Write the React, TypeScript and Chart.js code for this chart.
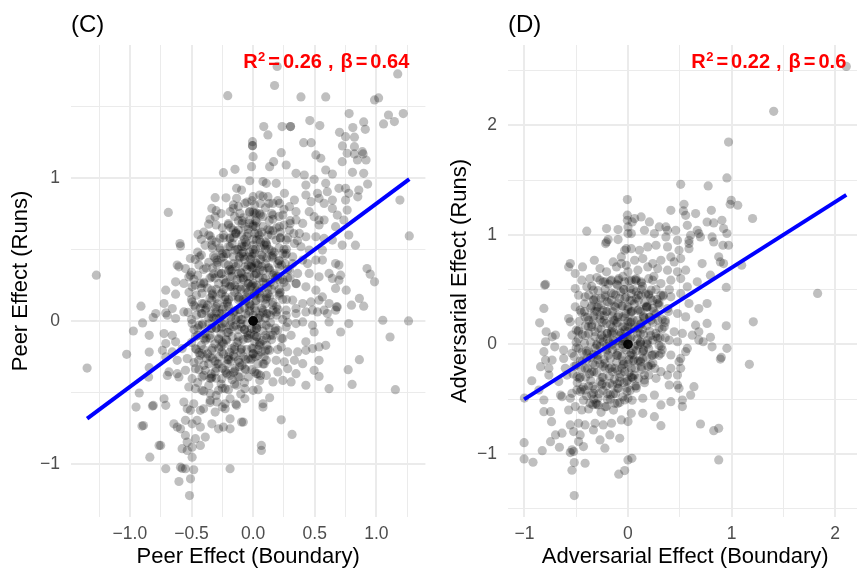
import React, { useEffect, useRef } from "react";
import { Chart, registerables } from "chart.js";

Chart.register(...registerables);

type Pt = [number, number];

// Panel C: peer effect, boundary share (x) vs runs (y) — players away from the centre
const peerSpread: Pt[] = [
  // upper tail
  [0.195, 1.777], [1.173, 1.725], [0.174, 1.644], [-0.206, 1.573], [0.388, 1.564], [0.589, 1.564], [0.985, 1.543], [1.018, 1.557],
  [0.779, 1.448], [1.098, 1.438], [1.218, 1.448], [1.058, 1.376], [1.146, 1.392], [0.46, 1.399], [0.086, 1.357], [0.12, 1.299],
  [0.235, 1.357], [0.303, 1.357], [0.303, 1.357], [0.541, 1.364], [0.701, 1.317], [0.809, 1.35], [0.897, 1.39], [0.91, 1.338],
  [0.75, 1.287], [0.822, 1.283], [-0.005, 1.252], [-0.005, 1.224], [-0.005, 1.224], [0.41, 1.245], [0.471, 1.245], [0.725, 1.222],
  [0.822, 1.217],
  // right side
  [0.886, 1.182], [0.822, 1.166], [0.892, 1.166], [0.846, 1.124], [0.916, 1.124], [0.897, 1.031], [0.806, 1.038], [0.857, 0.914],
  [0.929, 0.956], [0.849, 0.867], [1.191, 0.844], [1.267, 0.594], [0.924, 0.366], [0.95, 0.327], [0.985, 0.273], [0.83, 0.529],
  [0.755, 0.215], [0.862, 0.157], [0.897, 0.103], [0.798, 0.11], [0.677, 0.098], [1.052, 0.005], [1.261, 0], [1.111, -0.112],
  [1.154, -0.48], [0.862, -0.27], [0.771, -0.34], [0.803, -0.443],
  // left side
  [-1.272, 0.32], [-1.347, -0.329], [-1.026, -0.233], [-0.91, 0.103], [-0.897, -0.014], [-0.972, -0.07], [-0.843, -0.1],
  [-0.843, -0.217], [-0.811, 0.024], [-0.79, 0.052], [-0.924, -0.503], [-0.95, -0.601], [-0.817, -0.594], [-0.81, -0.59],
  [-0.902, -0.734], [-0.89, -0.73], [-0.838, -0.951], [-0.763, -0.869], [-0.843, -0.326], [-0.848, -0.392],
  // lower tail
  [-0.602, -1.121], [-0.516, -1.219], [-0.508, -1.102], [-0.575, -1.03], [-0.482, -1.039], [0.067, -0.869], [0.067, -0.904],
  // upper-left quarter
  [-0.241, 1.035], [-0.147, 1.059], [0, 1.147], [-0.013, 1.077], [-0.027, 0.979], [-0.134, 0.926], [-0.094, 0.914], [-0.308, 0.861],
  [-0.134, 0.856], [-0.067, 0.821], [0, 0.868], [0.013, 0.809], [-0.688, 0.758], [-0.335, 0.786], [-0.308, 0.728], [-0.187, 0.763],
  [-0.161, 0.786], [-0.107, 0.751], [-0.027, 0.763], [0.013, 0.751], [-0.361, 0.676], [-0.12, 0.7], [-0.027, 0.705], [-0.201, 0.67],
  [-0.161, 0.635], [-0.12, 0.635], [-0.067, 0.658], [0, 0.67], [-0.447, 0.604], [-0.348, 0.593], [-0.335, 0.565], [-0.268, 0.576],
  [-0.187, 0.576], [-0.094, 0.6], [-0.04, 0.611], [0.013, 0.611], [-0.594, 0.541], [-0.589, 0.523], [-0.335, 0.53], [-0.268, 0.495],
  [-0.187, 0.518], [-0.147, 0.495], [-0.094, 0.518], [-0.054, 0.53], [0, 0.53], [-0.509, 0.436], [-0.436, 0.448], [-0.321, 0.453],
  [-0.294, 0.425], [-0.241, 0.448], [-0.161, 0.448], [-0.094, 0.471], [-0.04, 0.448], [0.013, 0.471], [-0.616, 0.39], [-0.602, 0.378],
  [-0.402, 0.36], [-0.294, 0.39], [-0.201, 0.39], [-0.12, 0.401], [-0.067, 0.378], [-0.013, 0.39], [-0.549, 0.366], [-0.509, 0.32],
  [-0.629, 0.273], [-0.562, 0.262], [-0.522, 0.308], [-0.428, 0.262], [-0.335, 0.308], [-0.254, 0.332], [-0.187, 0.308], [-0.094, 0.332],
  [-0.027, 0.308], [0.027, 0.332], [-0.709, 0.215], [-0.629, 0.187], [-0.495, 0.238], [-0.415, 0.192], [-0.335, 0.215], [-0.227, 0.262],
  [-0.174, 0.238], [-0.107, 0.238], [-0.04, 0.262], [0.013, 0.238], [-0.723, 0.122], [-0.656, 0.087], [-0.495, 0.133], [-0.415, 0.122],
  [-0.335, 0.145], [-0.227, 0.168], [-0.12, 0.168], [-0.054, 0.168], [0.013, 0.192], [-0.709, 0.056], [-0.562, 0.063], [-0.468, 0.098],
  [-0.388, 0.075], [-0.308, 0.087], [-0.241, 0.098],
  // upper-right quarter
  [0.228, 1.175], [0.166, 1.112], [0.134, 1.077], [0.268, 1.089], [0.509, 1.159], [0.549, 1.136], [0.723, 1.112], [0.763, 1.171],
  [0.348, 1.031], [0.415, 1.019], [0.495, 0.989], [0.589, 1.054], [0.643, 1.026], [0.107, 0.961], [0.187, 0.961], [0.08, 0.973],
  [0.428, 0.949], [0.589, 0.961], [0.522, 0.891], [0.602, 0.903], [0.696, 0.926], [0.75, 0.926], [0.776, 0.891], [0.054, 0.879],
  [0.12, 0.868], [0.254, 0.891], [0.335, 0.844], [0.428, 0.879], [0.469, 0.833], [0.535, 0.856], [0.576, 0.821], [0.643, 0.844],
  [0.75, 0.844], [0.161, 0.821], [0.214, 0.821], [0.295, 0.798], [0.348, 0.763], [0.455, 0.763], [0.495, 0.728], [0.535, 0.705],
  [0.576, 0.705], [0.643, 0.786], [0.683, 0.739], [0.763, 0.774], [0.736, 0.705], [0.027, 0.751], [0.08, 0.728], [0.161, 0.739],
  [0.241, 0.739], [0.348, 0.705], [0.402, 0.681], [0.535, 0.67], [0.669, 0.658], [0, 0.658], [0.08, 0.658], [0.134, 0.635],
  [0.214, 0.658], [0.295, 0.635], [0.375, 0.611], [0.428, 0.588], [0.509, 0.588], [0.576, 0.576], [0.643, 0.565], [0.723, 0.53],
  [0.776, 0.6], [0.027, 0.565], [0.107, 0.541], [0.187, 0.565], [0.268, 0.565], [0.335, 0.541], [0.388, 0.518], [0.455, 0.495],
  [0.562, 0.495], [0, 0.471], [0.08, 0.448], [0.161, 0.46], [0.241, 0.471], [0.321, 0.448], [0.402, 0.425], [0.442, 0.401],
  [0.509, 0.425], [0.562, 0.425], [0.669, 0.401], [0.696, 0.39], [0.054, 0.355], [0.134, 0.355], [0.214, 0.378], [0.295, 0.355],
  [0.361, 0.332], [0.455, 0.332], [0.535, 0.308], [0.616, 0.332], [0.643, 0.297], [0.696, 0.285], [0.71, 0.32], [0, 0.262],
  [0.107, 0.262], [0.214, 0.285], [0.268, 0.238], [0.348, 0.262], [0.428, 0.238], [0.509, 0.215], [0.562, 0.168], [0.669, 0.227],
  [0.027, 0.145], [0.134, 0.168], [0.214, 0.192], [0.321, 0.145], [0.402, 0.122], [0.469, 0.133], [0.535, 0.145], [0.616, 0.122],
  [0.683, 0.098], [0.08, 0.075], [0.161, 0.075], [0.268, 0.075], [0.348, 0.087], [0.482, 0.075], [0.576, 0.075],
  // lower-left quarter
  [-0.415, 0.052], [-0.335, 0.028], [-0.254, 0.052], [-0.187, 0.063], [-0.12, 0.028], [-0.04, 0.04], [-0.696, 0.04], [-0.629, 0.017],
  [-0.495, -0.018], [-0.415, -0.03], [-0.335, -0.053], [-0.254, -0.042], [-0.187, -0.03], [-0.094, -0.042], [-0.013, -0.053],
  [-0.723, -0.088], [-0.656, -0.1], [-0.709, -0.158], [-0.629, -0.146], [-0.468, -0.111], [-0.388, -0.135], [-0.281, -0.123],
  [-0.214, -0.135], [-0.12, -0.111], [-0.04, -0.1], [0.013, -0.146], [-0.736, -0.205], [-0.656, -0.216], [-0.576, -0.193],
  [-0.468, -0.193], [-0.415, -0.228], [-0.335, -0.205], [-0.254, -0.216], [-0.174, -0.193], [-0.094, -0.193], [0, -0.193],
  [-0.709, -0.251], [-0.616, -0.275], [-0.535, -0.263], [-0.442, -0.275], [-0.361, -0.298], [-0.281, -0.251], [-0.201, -0.251],
  [-0.12, -0.275], [-0.04, -0.263], [-0.683, -0.356], [-0.616, -0.368], [-0.549, -0.345], [-0.468, -0.333], [-0.388, -0.345],
  [-0.308, -0.356], [-0.227, -0.345], [-0.147, -0.333], [-0.067, -0.333], [0.013, -0.356], [-0.696, -0.38], [-0.602, -0.391],
  [-0.495, -0.403], [-0.415, -0.391], [-0.335, -0.391], [-0.254, -0.403], [-0.187, -0.38], [-0.107, -0.391], [-0.04, -0.391],
  [-0.522, -0.461], [-0.468, -0.473], [-0.415, -0.484], [-0.348, -0.508], [-0.281, -0.484], [-0.227, -0.473], [-0.134, -0.449],
  [-0.067, -0.473], [0, -0.484], [-0.723, -0.543], [-0.709, -0.589], [-0.562, -0.566], [-0.535, -0.613], [-0.482, -0.578],
  [-0.402, -0.613], [-0.348, -0.554], [-0.294, -0.566], [-0.227, -0.578], [-0.187, -0.543], [-0.134, -0.589], [-0.067, -0.543],
  [-0.509, -0.624], [-0.428, -0.624], [-0.308, -0.636], [-0.227, -0.613], [-0.187, -0.683], [-0.094, -0.706], [-0.643, -0.718],
  [-0.616, -0.741], [-0.589, -0.753], [-0.549, -0.694], [-0.495, -0.718], [-0.455, -0.694], [-0.428, -0.741], [-0.335, -0.718],
  [-0.281, -0.753], [-0.241, -0.741], [-0.187, -0.753], [-0.08, -0.706], [-0.549, -0.799], [-0.535, -0.846], [-0.468, -0.822],
  [-0.388, -0.811], [-0.75, -0.869], [-0.576, -0.892], [-0.535, -0.904], [-0.495, -0.881], [-0.428, -0.869], [-0.495, -0.951],
  [-0.709, -1.032], [-0.589, -1.021], [-0.549, -1.032], [-0.187, -1.032],
  // lower-right quarter
  [0.054, 0.04], [0.12, 0.052], [0.187, 0.063], [0.268, 0.04], [0.348, 0.052], [0.428, 0.063], [0.522, 0.063], [0.602, 0.052],
  [0.669, 0.075], [0.027, -0.053], [0.107, -0.03], [0.201, -0.065], [0.268, -0.042], [0.348, -0.018], [0.402, -0.007], [0.482, -0.03],
  [0.616, -0.007], [0.71, -0.077], [0.776, -0.018], [0.027, -0.111], [0.08, -0.135], [0.161, -0.1], [0.241, -0.123], [0.308, -0.1],
  [0.428, -0.146], [0.495, -0.077], [0.589, -0.17], [0, -0.228], [0.067, -0.216], [0.134, -0.205], [0.228, -0.181], [0.281, -0.216],
  [0.361, -0.216], [0.428, -0.205], [0.482, -0.193], [0.535, -0.181], [0.04, -0.298], [0.107, -0.275], [0.187, -0.275], [0.254, -0.286],
  [0.335, -0.275], [0.402, -0.298], [0.535, -0.275], [0.027, -0.368], [0.107, -0.38], [0.201, -0.356], [0.281, -0.333], [0.348, -0.368],
  [0.495, -0.345], [0.535, -0.387], [0.054, -0.415], [0.161, -0.426], [0.241, -0.415], [0.308, -0.426], [0.428, -0.449], [0.616, -0.473],
  [0.04, -0.48], [0.134, -0.536], [0.08, -0.578], [0.08, -0.601], [0.228, -0.69], [0.316, -0.792],
  // players with no measured effect stack at the origin
  [0, 0], [0, 0], [0, 0], [0, 0], [0, 0], [0, 0], [0, 0], [0, 0], [0, 0], [0, 0], [0, 0], [0, 0],
];

// Panel C: the crowded middle of the cloud
const peerCore: Pt[] = [
  [0.02, 0.7], [0.05, 0.6], [0.1, 0.5], [0.03, 0.4], [0.08, 0.3], [0.15, 0.45], [0.2, 0.4], [0.12, 0.6], [0.25, 0.5], [0.18, 0.3],
  [0.05, 0.2], [0.1, 0.15], [0.22, 0.2], [0.28, 0.3], [0.06, 0.82], [0.15, 0.75], [0.3, 0.7], [0.22, 0.62],
  [-0.1, 0.3], [-0.05, 0.2], [-0.15, 0.25], [-0.2, 0.15], [-0.08, 0.45], [-0.03, 0.1], [-0.12, 0.08], [-0.18, 0.35], [-0.25, 0.2],
  [-0.06, 0.55], [-0.3, 0.1], [-0.02, 0.38],
  [-0.3, -0.05], [-0.2, -0.08], [-0.1, -0.02], [-0.25, -0.15], [-0.15, -0.2], [-0.05, -0.12], [-0.35, -0.1], [-0.4, -0.2],
  [-0.28, -0.3], [-0.18, -0.28], [-0.08, -0.25], [-0.45, -0.05], [-0.3, 0.02],
  [0.03, -0.05], [0.05, -0.15], [0.02, -0.25], [0.08, -0.3], [0.1, -0.1], [0.04, 0.02], [0.12, -0.2], [0.06, -0.38],
  [-0.42, 0.05], [-0.38, -0.12], [-0.33, 0.18], [-0.31, -0.28], [-0.29, 0.41], [-0.27, 0.02], [-0.26, -0.18], [-0.24, 0.29],
  [-0.22, -0.36], [-0.21, 0.12], [-0.2, 0.52], [-0.19, -0.06], [-0.17, 0.36], [-0.16, -0.24], [-0.15, 0.07], [-0.14, 0.62],
  [-0.13, 0.22], [-0.12, -0.14], [-0.11, 0.44], [-0.1, 0.01], [-0.09, -0.31], [-0.08, 0.3], [-0.07, 0.57], [-0.06, 0.14],
  [-0.05, -0.08], [-0.04, 0.39], [-0.03, 0.68], [-0.02, 0.24], [-0.01, -0.19], [0.0, 0.5], [0.01, 0.09], [0.02, 0.33],
  [0.03, -0.11], [0.04, 0.61], [0.05, 0.19], [0.06, 0.43], [0.07, -0.02], [0.08, 0.27], [0.09, 0.53], [0.1, 0.12],
  [0.11, -0.17], [0.12, 0.37], [0.13, 0.7], [0.14, 0.04], [0.15, 0.22], [0.17, 0.48], [0.18, -0.07], [0.2, 0.31],
  [0.22, 0.58], [0.24, 0.15], [0.26, 0.4], [0.28, -0.01],
  [-0.44, -0.22], [-0.4, 0.27], [-0.36, -0.02], [-0.34, -0.4], [-0.32, 0.33], [-0.3, 0.06], [-0.28, -0.13], [-0.25, 0.47],
  [-0.23, 0.15], [-0.21, -0.27], [-0.18, 0.25], [-0.16, 0.58], [-0.14, -0.03], [-0.12, 0.33], [-0.1, -0.22], [-0.08, 0.48],
  [-0.06, 0.05], [-0.04, 0.2], [-0.02, -0.27], [0.0, 0.37], [0.02, 0.14], [0.04, -0.2], [0.06, 0.55], [0.08, 0.06],
  [0.1, 0.4], [0.12, 0.23], [0.14, -0.1], [0.16, 0.63], [0.19, 0.1], [0.21, 0.42], [0.23, -0.12], [0.25, 0.27],
  [-0.37, 0.11], [-0.35, -0.25], [-0.3, 0.22], [-0.26, -0.05], [-0.24, 0.6], [-0.2, 0.35], [-0.18, 0.0], [-0.15, -0.35],
  [-0.13, 0.5], [-0.11, 0.16], [-0.09, 0.7], [-0.07, -0.06], [-0.05, 0.31], [-0.03, 0.07], [-0.01, 0.45], [0.01, -0.06],
  [0.03, 0.25], [0.05, 0.75], [0.07, 0.38], [0.09, -0.25], [0.11, 0.17], [0.13, 0.5], [0.16, 0.32], [0.2, -0.2], [0.27, 0.5],
  [-0.22, 0.86], [-0.05, 0.83], [0.08, 0.87], [0.2, 0.84], [-0.3, 0.77], [-0.12, 0.8], [0.0, 0.76], [0.1, 0.79], [0.25, 0.78],
  [-0.35, 0.71], [-0.2, 0.68], [-0.08, 0.72], [0.03, 0.69], [0.16, 0.71], [0.3, 0.68], [-0.4, 0.62], [-0.25, 0.65], [-0.14, 0.61],
  [-0.04, 0.64], [0.07, 0.62], [0.19, 0.65], [0.33, 0.61], [-0.42, 0.57], [-0.3, 0.55], [-0.19, 0.58], [-0.09, 0.54], [0.0, 0.57],
  [0.1, 0.55], [0.22, 0.58], [0.36, 0.56], [-0.45, 0.48], [-0.33, 0.51], [-0.22, 0.47], [-0.12, 0.5], [-0.03, 0.48], [0.06, 0.51],
  [0.15, 0.49], [0.27, 0.47], [-0.47, 0.43], [-0.36, 0.41], [-0.26, 0.44], [-0.16, 0.4], [-0.07, 0.43], [0.02, 0.41], [0.11, 0.44],
  [0.21, 0.42], [0.32, 0.4], [-0.5, 0.34], [-0.38, 0.37], [-0.28, 0.33], [-0.19, 0.36], [-0.1, 0.34], [-0.01, 0.37], [0.08, 0.35],
  [0.17, 0.33], [0.28, 0.36], [-0.48, 0.29], [-0.4, 0.26], [-0.31, 0.3], [-0.22, 0.27], [-0.13, 0.29], [-0.04, 0.26], [0.05, 0.3],
  [0.14, 0.27], [0.24, 0.29], [0.35, 0.26], [-0.52, 0.2], [-0.42, 0.23], [-0.33, 0.19], [-0.24, 0.22], [-0.15, 0.2], [-0.06, 0.23],
  [0.03, 0.21], [0.12, 0.19], [0.21, 0.22], [-0.5, 0.15], [-0.4, 0.12], [-0.3, 0.16], [-0.21, 0.13], [-0.12, 0.15], [-0.03, 0.12],
  [0.06, 0.16], [0.16, 0.13], [0.27, 0.15], [-0.53, 0.06], [-0.43, 0.09], [-0.34, 0.05], [-0.25, 0.08], [-0.16, 0.06], [-0.07, 0.09],
  [0.02, 0.07], [0.11, 0.05], [0.2, 0.08], [-0.5, 0.01], [-0.41, -0.02], [-0.32, 0.02], [-0.23, -0.01], [-0.14, 0.01], [-0.05, -0.02],
  [0.05, 0.02], [0.14, -0.01], [0.24, 0.01], [-0.48, -0.06], [-0.39, -0.09], [-0.3, -0.05], [-0.21, -0.08], [-0.12, -0.06],
  [-0.02, -0.09], [0.08, -0.07], [0.18, -0.05], [-0.5, -0.15], [-0.4, -0.12], [-0.31, -0.16], [-0.22, -0.13], [-0.13, -0.15],
  [-0.04, -0.12], [0.06, -0.16], [0.15, -0.13], [-0.46, -0.2], [-0.37, -0.23], [-0.28, -0.19], [-0.19, -0.22], [-0.1, -0.2],
  [0.0, -0.23], [0.1, -0.21], [-0.48, -0.29], [-0.38, -0.26], [-0.29, -0.3], [-0.2, -0.27], [-0.11, -0.29], [-0.01, -0.26],
  [0.09, -0.3], [-0.44, -0.34], [-0.34, -0.37], [-0.25, -0.33], [-0.16, -0.36], [-0.06, -0.34], [0.04, -0.37], [-0.45, -0.43],
  [-0.35, -0.4], [-0.26, -0.44], [-0.17, -0.41], [-0.07, -0.43], [-0.4, -0.49], [-0.3, -0.52], [-0.2, -0.48], [-0.1, -0.51],
  [-0.35, -0.57], [-0.25, -0.6], [-0.14, -0.58],
  [-0.16, 0.81], [-0.01, 0.84], [0.13, 0.82], [-0.26, 0.75], [-0.15, 0.73], [-0.03, 0.76], [0.06, 0.74], [0.21, 0.73],
  [-0.3, 0.67], [-0.18, 0.65], [-0.09, 0.68], [0.02, 0.66], [0.12, 0.64], [0.25, 0.67], [-0.36, 0.6], [-0.24, 0.58], [-0.14, 0.61],
  [-0.05, 0.59], [0.05, 0.57], [0.15, 0.6], [0.28, 0.58], [-0.39, 0.53], [-0.27, 0.51], [-0.17, 0.54], [-0.07, 0.52], [0.02, 0.5],
  [0.11, 0.53], [0.21, 0.51], [-0.42, 0.46], [-0.31, 0.44], [-0.21, 0.47], [-0.11, 0.45], [-0.02, 0.43], [0.07, 0.46], [0.16, 0.44],
  [0.26, 0.46], [-0.44, 0.39], [-0.33, 0.37], [-0.23, 0.4], [-0.14, 0.38], [-0.05, 0.36], [0.04, 0.39], [0.13, 0.37], [0.23, 0.39],
  [-0.45, 0.32], [-0.35, 0.3], [-0.26, 0.33], [-0.17, 0.31], [-0.08, 0.29], [0.01, 0.32], [0.1, 0.3], [0.19, 0.32], [0.3, 0.3],
  [-0.47, 0.25], [-0.37, 0.23], [-0.28, 0.26], [-0.19, 0.24], [-0.1, 0.22], [-0.01, 0.25], [0.08, 0.23], [0.17, 0.25],
  [-0.46, 0.18], [-0.35, 0.16], [-0.26, 0.19], [-0.17, 0.17], [-0.08, 0.15], [0.01, 0.18], [0.11, 0.16], [0.21, 0.18],
  [-0.48, 0.11], [-0.38, 0.09], [-0.29, 0.12], [-0.2, 0.1], [-0.11, 0.08], [-0.02, 0.11], [0.07, 0.09], [0.16, 0.11],
  [-0.46, 0.04], [-0.36, 0.02], [-0.27, 0.05], [-0.18, 0.03], [-0.09, 0.01], [0.0, 0.04], [0.1, 0.02], [0.19, 0.04],
  [-0.44, -0.03], [-0.34, -0.05], [-0.25, -0.02], [-0.16, -0.04], [-0.07, -0.06], [0.03, -0.03], [0.13, -0.05],
  [-0.45, -0.1], [-0.35, -0.12], [-0.26, -0.09], [-0.17, -0.11], [-0.08, -0.13], [0.01, -0.1], [0.11, -0.12],
  [-0.42, -0.17], [-0.33, -0.19], [-0.24, -0.16], [-0.15, -0.18], [-0.05, -0.2], [0.05, -0.17],
  [-0.43, -0.24], [-0.33, -0.26], [-0.24, -0.23], [-0.15, -0.25], [-0.06, -0.27], [0.04, -0.24],
  [-0.4, -0.31], [-0.3, -0.33], [-0.21, -0.3], [-0.11, -0.32], [-0.01, -0.34], [-0.4, -0.38], [-0.3, -0.4], [-0.21, -0.37],
  [-0.12, -0.39], [-0.36, -0.45], [-0.25, -0.47], [-0.15, -0.44],
];

// Panel D: adversarial effect, boundary share (x) vs runs (y) — players away from the centre
const adversarialSpread: Pt[] = [
  // upper tail
  [2.108, 2.537], [1.407, 2.127], [0.971, 1.847], [0.955, 1.519], [0.509, 1.461], [0.774, 1.446], [-0.006, 1.322], [0.997, 1.315],
  [0.987, 1.279], [1.06, 1.27], [1.203, 1.149], [0.541, 1.279], [0.535, 1.218], [0.653, 1.194], [0.805, 1.224], [-0.006, 1.179],
  [-0.006, 1.133], [0.0, 1.072], [0.041, 1.118], [0.159, 1.042], [0.207, 1.118], [-0.207, 1.057], [-0.096, 1.048], [-0.398, 1.033],
  [0.414, 1.224], [0.382, 1.042], [0.366, 1.072], [0.461, 1.042], [0.812, 0.981], [0.828, 1.109], [0.907, 1.133], [0.923, 1.057],
  [0.955, 1.012], [0.917, 0.905], [0.971, 0.905], [0.669, 1.042], [0.605, 0.996], [0.7, 0.981], [0.589, 0.921], [-0.207, 0.935],
  [-0.191, 0.957], [-0.096, 0.957], [-0.557, 0.738], [-0.573, 0.707], [-0.439, 0.707], [-0.509, 0.647], [-0.325, 0.768],
  [-0.796, 0.547], [0.876, 0.799], [0.892, 0.753], [1.098, 0.723], [0.796, 0.632], [0.716, 0.738], [0.949, 0.52],
  // right side and lower tail
  [1.831, 0.465], [1.21, 0.206], [1.172, -0.182], [0.949, 0.17], [0.955, -0.036], [0.892, -0.134], [0.901, -0.119], [0.796, 0.064],
  [0.812, -0.022], [0.726, 0.024], [0.7, -0.727], [0.828, -0.788], [0.876, -0.766], [0.876, -1.055], [0.318, -0.742], [0.0, -1.055],
  [0.038, -1.04], [-0.089, -1.185], [-0.032, -1.152], [-0.519, -1.38], [-0.541, -1.149], [-0.519, -1.079], [-0.414, -1.085],
  [-0.557, -0.988], [-0.525, -0.979],
  // left side
  [-1.003, -0.897], [-1.003, -1.046], [-0.917, -1.076], [-0.828, -0.97], [-0.662, -0.939], [-0.748, -0.888], [-0.7, -0.827],
  [-0.637, -0.811], [-0.812, -0.614], [-0.738, -0.706], [-0.748, -0.614], [-0.812, -0.508], [-1.0, -0.49], [-0.929, -0.332],
  [-0.86, -0.417], [-0.844, -0.204], [-0.764, -0.219], [-0.733, -0.143], [-0.812, -0.067], [-0.796, -0.143], [-0.79, 0.115],
  [-0.796, 0.024], [-0.7, 0.085], [-0.853, 0.197], [-0.812, 0.328], [-0.805, 0.541], [-0.707, -0.022], [-0.621, -0.052],
  [-0.605, -0.219], [-0.652, -0.462], [-0.557, -0.492],
  // upper-left quarter
  [0, 1.011], [-0.216, 0.92], [-0.032, 0.859], [-0.016, 0.874], [-0.064, 0.798], [-0.27, 0.692], [-0.207, 0.662], [-0.143, 0.753],
  [-0.111, 0.707], [-0.064, 0.738], [-0.016, 0.722], [-0.509, 0.51], [-0.446, 0.586], [-0.398, 0.525], [-0.366, 0.601],
  [-0.334, 0.495], [-0.27, 0.586], [-0.223, 0.571], [-0.159, 0.586], [-0.095, 0.586], [-0.032, 0.571], [-0.509, 0.343],
  [-0.477, 0.449], [-0.414, 0.434], [-0.334, 0.403], [-0.287, 0.343], [-0.223, 0.434], [-0.159, 0.403], [-0.095, 0.373],
  [-0.032, 0.419], [-0.732, 0.069], [-0.573, 0.236], [-0.557, 0.206], [-0.462, 0.312], [-0.414, 0.251], [-0.334, 0.221],
  [-0.27, 0.267], [-0.207, 0.191], [-0.127, 0.221], [-0.048, 0.252], [-0.541, 0.084], [-0.477, 0.13], [-0.382, 0.16],
  [-0.318, 0.115], [-0.255, 0.084], [-0.159, 0.1], [-0.08, 0.115], [0, 0.16],
  // upper-right quarter
  [0.557, 1.178], [0.127, 1.163], [0.064, 1.148], [0.302, 1.072], [0.573, 1.087], [0.764, 1.117], [0.032, 1.011], [0.255, 1.011],
  [0.366, 0.981], [0.478, 0.95], [0.589, 0.95], [0.684, 1.011], [0.828, 0.935], [0.032, 0.874], [0.111, 0.859], [0.191, 0.89],
  [0.271, 0.905], [0.382, 0.89], [0.493, 0.859], [0.589, 0.874], [0.923, 0.738], [0.064, 0.768], [0.143, 0.783], [0.239, 0.738],
  [0.318, 0.768], [0.414, 0.798], [0.509, 0.783], [0.446, 0.753], [0, 0.662], [0.096, 0.677], [0.191, 0.707], [0.287, 0.692],
  [0.382, 0.677], [0.478, 0.662], [0.557, 0.677], [0.669, 0.571], [0.032, 0.586], [0.127, 0.571], [0.239, 0.586], [0.318, 0.555],
  [0.414, 0.586], [0.509, 0.601], [0.573, 0.525], [0.032, 0.464], [0.127, 0.449], [0.223, 0.495], [0.318, 0.449], [0.414, 0.434],
  [0.509, 0.464], [0.589, 0.373], [0.684, 0.327], [0.764, 0.373], [0, 0.343], [0.096, 0.312], [0.191, 0.343], [0.287, 0.373],
  [0.382, 0.327], [0.478, 0.282], [0.557, 0.251], [0.653, 0.175], [0.764, 0.191], [0.684, 0.115], [0.032, 0.206], [0.127, 0.191],
  [0.223, 0.221], [0.35, 0.16], [0.446, 0.115], [0.525, 0.1], [0.621, 0.084],
  // lower-left quarter
  [-0.621, -0.128], [-0.541, -0.082], [-0.477, -0.037], [-0.398, -0.082], [-0.318, -0.037], [-0.239, 0.024], [-0.143, 0.039],
  [-0.048, 0.055], [-0.764, -0.28], [-0.669, -0.34], [-0.589, -0.28], [-0.493, -0.295], [-0.414, -0.219], [-0.318, -0.188],
  [-0.223, -0.173], [-0.127, -0.219], [-0.032, -0.249], [-0.637, -0.477], [-0.541, -0.447], [-0.493, -0.416], [-0.414, -0.416],
  [-0.334, -0.447], [-0.255, -0.371], [-0.175, -0.356], [-0.08, -0.34], [0, -0.325], [-0.573, -0.599], [-0.509, -0.568],
  [-0.446, -0.599], [-0.366, -0.538], [-0.287, -0.553], [-0.207, -0.568], [-0.127, -0.538], [-0.032, -0.508], [-0.557, -0.735],
  [-0.477, -0.72], [-0.414, -0.735], [-0.318, -0.72], [-0.239, -0.735], [-0.159, -0.72], [-0.064, -0.69], [0, -0.705],
  [-0.525, -0.796], [-0.462, -0.827], [-0.334, -0.781], [-0.175, -0.827], [-0.08, -0.857], [-0.541, -0.963], [-0.477, -0.887],
  [-0.43, -0.933], [-0.27, -0.872], [-0.223, -0.948],
  // lower-right quarter
  [0.096, -0.006], [0.191, 0.039], [0.287, 0.055], [0.398, 0.039], [0.478, 0.024], [0.573, -0.037], [0.684, 0.039], [0.048, -0.097],
  [0.143, -0.128], [0.239, -0.097], [0.318, -0.082], [0.414, -0.097], [0.509, -0.128], [0.557, -0.067], [0.032, -0.219],
  [0.127, -0.204], [0.223, -0.188], [0.318, -0.249], [0.414, -0.219], [0.509, -0.219], [0.493, -0.158], [0.048, -0.31],
  [0.159, -0.325], [0.271, -0.31], [0.382, -0.28], [0.478, -0.28], [0.398, -0.371], [0.478, -0.371], [0.493, -0.401],
  [0.637, -0.386], [0, -0.492], [0.143, -0.492], [0.255, -0.462], [0.318, -0.553], [0.414, -0.523], [0.525, -0.508],
  [0.525, -0.568], [0.605, -0.462], [0.032, -0.629], [0.143, -0.629], [0.255, -0.66],
  // players with no measured effect stack at the origin
  [0, 0], [0, 0], [0, 0], [0, 0], [0, 0], [0, 0], [0, 0], [0, 0], [0, 0], [0, 0],
];

// Panel D: the crowded middle of the cloud
const adversarialCore: Pt[] = [
  [-0.2, 0.3], [-0.1, 0.25], [-0.3, 0.3], [-0.15, 0.15], [-0.05, 0.35], [-0.25, 0.2], [-0.12, 0.45], [-0.35, 0.35], [-0.05, 0.05],
  [-0.2, 0.05], [0.05, 0.5], [0.1, 0.4], [0.03, 0.3], [0.15, 0.25], [0.08, 0.6], [0.2, 0.45], [0.05, 0.15], [0.12, 0.1],
  [0.18, 0.35], [0.25, 0.3], [-0.2, -0.05], [-0.1, -0.1], [-0.3, -0.1], [-0.15, -0.25], [-0.05, -0.15], [-0.25, -0.3],
  [-0.35, -0.25], [-0.1, -0.4], [-0.2, -0.45], [-0.3, -0.55], [-0.05, 0.0], [-0.15, 0.0], [0.05, -0.05], [0.1, -0.15],
  [0.03, -0.3], [0.15, -0.05], [0.2, -0.2], [0.08, -0.4], [0.02, 0.05], [0.12, 0.02],
  [-0.52, -0.2], [-0.48, 0.12], [-0.45, -0.41], [-0.42, 0.3], [-0.4, -0.06], [-0.37, -0.27], [-0.35, 0.16], [-0.33, -0.5],
  [-0.31, 0.42], [-0.29, -0.14], [-0.27, 0.05], [-0.25, -0.36], [-0.23, 0.26], [-0.21, -0.02], [-0.19, 0.55], [-0.18, -0.22],
  [-0.16, 0.12], [-0.14, -0.45], [-0.13, 0.35], [-0.11, -0.1], [-0.1, 0.2], [-0.08, -0.3], [-0.07, 0.48], [-0.05, 0.03],
  [-0.04, -0.18], [-0.02, 0.28], [-0.01, -0.4], [0.0, 0.12], [0.02, 0.4], [0.03, -0.08], [0.05, 0.22], [0.06, -0.28],
  [0.08, 0.58], [0.09, 0.05], [0.11, 0.32], [0.12, -0.16], [0.14, 0.14], [0.16, -0.35], [0.17, 0.46], [0.19, 0.0],
  [0.21, 0.25], [0.23, -0.1], [0.25, 0.62], [0.27, 0.1], [0.3, 0.38], [0.33, -0.05], [0.36, 0.2], [0.4, 0.5],
  [-0.5, 0.02], [-0.44, -0.15], [-0.38, 0.22], [-0.34, -0.38], [-0.3, 0.0], [-0.26, 0.36], [-0.24, -0.2], [-0.2, 0.1],
  [-0.17, -0.5], [-0.15, 0.3], [-0.12, -0.02], [-0.09, 0.6], [-0.06, -0.22], [-0.03, 0.16], [0.01, -0.14], [0.04, 0.3],
  [0.07, -0.38], [0.1, 0.15], [0.13, 0.5], [0.15, -0.06], [0.18, 0.34], [0.22, 0.08], [0.26, -0.22], [0.29, 0.22], [0.34, 0.45],
  [-0.46, -0.3], [-0.41, 0.08], [-0.36, -0.12], [-0.32, 0.3], [-0.28, -0.45], [-0.22, 0.45], [-0.19, -0.1], [-0.14, 0.22],
  [-0.1, -0.36], [-0.07, 0.1], [-0.04, 0.5], [-0.02, -0.05], [0.02, 0.2], [0.05, -0.15], [0.08, 0.42], [0.12, 0.0],
  [0.16, 0.24], [0.2, -0.28], [0.24, 0.4], [0.31, 0.06],
  [-0.3, 0.61], [-0.17, 0.58], [-0.05, 0.62], [0.07, 0.59], [0.2, 0.6], [-0.35, 0.53], [-0.22, 0.5], [-0.1, 0.54], [0.02, 0.51],
  [0.14, 0.53], [0.27, 0.5], [-0.38, 0.45], [-0.26, 0.42], [-0.14, 0.46], [-0.02, 0.43], [0.1, 0.45], [0.22, 0.42], [0.34, 0.44],
  [-0.42, 0.37], [-0.3, 0.34], [-0.18, 0.38], [-0.06, 0.35], [0.06, 0.37], [0.18, 0.34], [0.3, 0.36], [-0.45, 0.29], [-0.33, 0.26],
  [-0.21, 0.3], [-0.09, 0.27], [0.03, 0.29], [0.15, 0.26], [0.27, 0.28], [0.39, 0.3], [-0.47, 0.21], [-0.35, 0.18], [-0.23, 0.22],
  [-0.11, 0.19], [0.0, 0.21], [0.12, 0.18], [0.24, 0.2], [0.36, 0.22], [-0.5, 0.13], [-0.38, 0.1], [-0.26, 0.14], [-0.14, 0.11],
  [-0.03, 0.13], [0.09, 0.1], [0.21, 0.12], [0.33, 0.14], [-0.48, 0.05], [-0.36, 0.02], [-0.24, 0.06], [-0.12, 0.03], [0.0, 0.05],
  [0.12, 0.02], [0.24, 0.04], [0.36, 0.06], [-0.5, -0.03], [-0.38, -0.06], [-0.27, -0.02], [-0.15, -0.05], [-0.04, -0.03],
  [0.08, -0.06], [0.2, -0.04], [0.32, -0.02], [-0.52, -0.11], [-0.4, -0.14], [-0.29, -0.1], [-0.17, -0.13], [-0.06, -0.11],
  [0.06, -0.14], [0.18, -0.12], [0.3, -0.1], [-0.5, -0.19], [-0.39, -0.22], [-0.27, -0.18], [-0.16, -0.21], [-0.05, -0.19],
  [0.07, -0.22], [0.19, -0.2], [-0.53, -0.27], [-0.41, -0.3], [-0.3, -0.26], [-0.18, -0.29], [-0.07, -0.27], [0.04, -0.3],
  [0.16, -0.28], [-0.49, -0.35], [-0.38, -0.38], [-0.27, -0.34], [-0.15, -0.37], [-0.04, -0.35], [0.08, -0.38], [-0.46, -0.43],
  [-0.35, -0.46], [-0.24, -0.42], [-0.12, -0.45], [-0.01, -0.43], [-0.43, -0.51], [-0.31, -0.54], [-0.2, -0.5], [-0.08, -0.53],
  [0.04, -0.51], [-0.38, -0.59], [-0.26, -0.62], [-0.14, -0.6],
  [-0.24, 0.57], [-0.11, 0.55], [0.01, 0.58], [0.13, 0.56], [-0.29, 0.49], [-0.16, 0.47], [-0.04, 0.5], [0.08, 0.48], [0.2, 0.46],
  [-0.33, 0.41], [-0.2, 0.39], [-0.08, 0.42], [0.04, 0.4], [0.16, 0.38], [0.28, 0.41], [-0.36, 0.33], [-0.24, 0.31], [-0.12, 0.34],
  [0.0, 0.32], [0.12, 0.3], [0.24, 0.33], [-0.39, 0.25], [-0.27, 0.23], [-0.15, 0.26], [-0.03, 0.24], [0.09, 0.22], [0.21, 0.25],
  [0.33, 0.23], [-0.41, 0.17], [-0.29, 0.15], [-0.17, 0.18], [-0.05, 0.16], [0.06, 0.14], [0.18, 0.17], [0.3, 0.15],
  [-0.44, 0.09], [-0.32, 0.07], [-0.2, 0.1], [-0.08, 0.08], [0.03, 0.06], [0.15, 0.09], [0.27, 0.07], [-0.42, 0.01],
  [-0.3, -0.01], [-0.18, 0.02], [-0.06, 0.0], [0.06, -0.02], [0.18, 0.01], [0.3, -0.01], [-0.44, -0.07], [-0.33, -0.09],
  [-0.21, -0.06], [-0.1, -0.08], [0.02, -0.1], [0.14, -0.07], [0.26, -0.09], [-0.46, -0.15], [-0.34, -0.17], [-0.23, -0.14],
  [-0.11, -0.16], [0.0, -0.18], [0.12, -0.15], [0.24, -0.17], [-0.45, -0.23], [-0.33, -0.25], [-0.22, -0.22], [-0.1, -0.24],
  [0.01, -0.26], [0.13, -0.23], [-0.47, -0.31], [-0.36, -0.33], [-0.24, -0.3], [-0.13, -0.32], [-0.01, -0.34], [0.1, -0.31],
  [-0.43, -0.39], [-0.32, -0.41], [-0.21, -0.38], [-0.09, -0.4], [0.02, -0.42], [-0.4, -0.47], [-0.29, -0.49], [-0.17, -0.46],
  [-0.05, -0.48], [-0.34, -0.55], [-0.22, -0.57], [-0.1, -0.54],
];

const peerPoints: Pt[] = [...peerSpread, ...peerCore];
const adversarialPoints: Pt[] = [...adversarialSpread, ...adversarialCore];

// Least-squares fits printed on each panel
const peerFit = { intercept: 0.18, slope: 0.64, r2: "0.26", beta: "0.64" };
const adversarialFit = { intercept: 0.1, slope: 0.6, r2: "0.22", beta: "0.6" };

// Axis ticks (major ones carry labels, minor ones only draw grid lines)
const peerXMajor = [-1, -0.5, 0, 0.5, 1];
const peerXLabels = ["\u22121.0", "\u22120.5", "0.0", "0.5", "1.0"];
const peerXMinor = [-1.25, -0.75, -0.25, 0.25, 0.75, 1.25];
const peerYMajor = [-1, 0, 1];
const peerYLabels = ["\u22121", "0", "1"];
const peerYMinor = [-0.5, 0.5, 1.5];

const advXMajor = [-1, 0, 1, 2];
const advXLabels = ["\u22121", "0", "1", "2"];
const advXMinor = [-0.5, 0.5, 1.5];
const advYMajor = [-1, 0, 1, 2];
const advYLabels = ["\u22121", "0", "1", "2"];
const advYMinor = [-1.5, -0.5, 0.5, 1.5, 2.5];

const FONT = '"Liberation Sans", Arial, Helvetica, sans-serif';
const GRID = "#EBEBEB";
const TICK_TEXT = "#4D4D4D";

interface PanelSpec {
  title: string;
  xTitle: string;
  yTitle: string;
  points: Pt[];
  fit: { intercept: number; slope: number; r2: string; beta: string };
  xMajor: number[];
  xLabels: string[];
  xMinor: number[];
  yMajor: number[];
  yLabels: string[];
  yMinor: number[];
  yAxisWidth: number;
  yTitlePad: number;
  padRight: number;
}

// ggplot-style range: data extent plus 5% on each side
function expandedRange(values: number[]) {
  let lo = Infinity;
  let hi = -Infinity;
  for (const v of values) {
    if (v < lo) lo = v;
    if (v > hi) hi = v;
  }
  const pad = (hi - lo) * 0.05;
  return { lo, hi, min: lo - pad, max: hi + pad };
}

const panelText = {
  id: "panelText",
  afterDatasetsDraw(chart: any, _args: unknown, opts: any) {
    const { ctx, chartArea } = chart;
    const xScale = chart.scales.x;
    ctx.save();
    ctx.textAlign = "left";
    ctx.textBaseline = "alphabetic";
    ctx.fillStyle = "#000000";
    ctx.font = `24px ${FONT}`;
    ctx.fillText(opts.title, chartArea.left, 31.5);

    const parts = [
      { text: "R", size: 20, rise: 0, gap: 0 },
      { text: "2", size: 13, rise: 6.7, gap: 0.5 },
      { text: "=", size: 20, rise: 0, gap: 3 },
      { text: opts.r2, size: 20, rise: 0, gap: 3 },
      { text: ",", size: 20, rise: 0, gap: 6 },
      { text: "\u03B2", size: 20, rise: 0, gap: 7 },
      { text: "=", size: 20, rise: 0, gap: 3 },
      { text: opts.beta, size: 20, rise: 0, gap: 3 },
    ];
    let total = 0;
    const widths = parts.map((p) => {
      ctx.font = `bold ${p.size}px ${FONT}`;
      const w = ctx.measureText(p.text).width;
      total += w + p.gap;
      return w;
    });
    let x = xScale.getPixelForValue(opts.labelX) - total;
    const baseline = 68;
    ctx.fillStyle = "#FF0000";
    parts.forEach((p, i) => {
      x += p.gap;
      ctx.font = `bold ${p.size}px ${FONT}`;
      ctx.fillText(p.text, x, baseline - p.rise);
      x += widths[i];
    });
    ctx.restore();
  },
};

function makePanel(canvas: HTMLCanvasElement, spec: PanelSpec) {
  const xs = spec.points.map((p) => p[0]);
  const ys = spec.points.map((p) => p[1]);
  const xr = expandedRange(xs);
  const yr = expandedRange(ys);
  const { intercept, slope } = spec.fit;

  const axis = (
    major: number[],
    labels: string[],
    minor: number[],
    range: { min: number; max: number },
    title: string,
    isX: boolean
  ) => ({
    type: "linear" as const,
    min: range.min,
    max: range.max,
    afterBuildTicks: (scale: any) => {
      scale.ticks = [...major, ...minor].sort((a, b) => a - b).map((value) => ({ value }));
    },
    afterFit: (scale: any) => {
      if (isX) scale.height = 56;
      else scale.width = spec.yAxisWidth;
    },
    border: { display: false },
    grid: {
      color: GRID,
      drawTicks: false,
      lineWidth: (ctx: any) => (ctx.tick && major.includes(ctx.tick.value) ? 2 : 1),
    },
    ticks: {
      autoSkip: false,
      maxRotation: 0,
      minRotation: 0,
      padding: isX ? 6.5 : 11,
      color: TICK_TEXT,
      font: { family: FONT, size: 17.5 },
      callback: (value: number) => {
        const i = major.indexOf(value);
        return i >= 0 ? labels[i] : "";
      },
    },
    title: {
      display: true,
      text: title,
      color: "#000000",
      font: { family: FONT, size: 22 },
      padding: isX ? { top: 0, bottom: 3 } : { top: spec.yTitlePad, bottom: 0 },
    },
  });

  return new Chart(canvas, {
    type: "scatter",
    data: {
      datasets: [
        {
          type: "line",
          data: [
            { x: xr.lo, y: intercept + slope * xr.lo },
            { x: xr.hi, y: intercept + slope * xr.hi },
          ],
          borderColor: "#0000FF",
          borderWidth: 4,
          pointRadius: 0,
          fill: false,
          order: 0,
        },
        {
          type: "scatter",
          data: spec.points.map(([x, y]) => ({ x, y })),
          backgroundColor: "rgba(0,0,0,0.25)",
          pointRadius: 4.6,
          pointBorderWidth: 0,
          borderWidth: 0,
          order: 1,
        },
      ],
    },
    options: {
      responsive: false,
      animation: false,
      events: [],
      layout: { padding: { top: 45, right: spec.padRight, left: 0, bottom: 0 } },
      scales: {
        x: axis(spec.xMajor, spec.xLabels, spec.xMinor, xr, spec.xTitle, true),
        y: axis(spec.yMajor, spec.yLabels, spec.yMinor, yr, spec.yTitle, false),
      },
      plugins: {
        legend: { display: false },
        tooltip: { enabled: false },
        panelText: { title: spec.title, r2: spec.fit.r2, beta: spec.fit.beta, labelX: xr.hi },
      } as any,
    },
    plugins: [panelText],
  } as any);
}

const peerSpec: PanelSpec = {
  title: "(C)",
  xTitle: "Peer Effect (Boundary)",
  yTitle: "Peer Effect (Runs)",
  points: peerPoints,
  fit: peerFit,
  xMajor: peerXMajor,
  xLabels: peerXLabels,
  xMinor: peerXMinor,
  yMajor: peerYMajor,
  yLabels: peerYLabels,
  yMinor: peerYMinor,
  yAxisWidth: 71,
  yTitlePad: 8,
  padRight: 1,
};

const adversarialSpec: PanelSpec = {
  title: "(D)",
  xTitle: "Adversarial Effect (Boundary)",
  yTitle: "Adversarial Effect (Runs)",
  points: adversarialPoints,
  fit: adversarialFit,
  xMajor: advXMajor,
  xLabels: advXLabels,
  xMinor: advXMinor,
  yMajor: advYMajor,
  yLabels: advYLabels,
  yMinor: advYMinor,
  yAxisWidth: 78,
  yTitlePad: 17,
  padRight: 1,
};

export default function App() {
  const leftRef = useRef<HTMLCanvasElement>(null);
  const rightRef = useRef<HTMLCanvasElement>(null);

  useEffect(() => {
    const charts = [makePanel(leftRef.current!, peerSpec), makePanel(rightRef.current!, adversarialSpec)];
    return () => charts.forEach((c) => c.destroy());
  }, []);

  return (
    <div
      style={{
        position: "absolute",
        left: 0,
        top: 0,
        width: 857,
        height: 573,
        overflow: "hidden",
        background: "#ffffff",
      }}
    >
      <canvas ref={leftRef} width={430} height={573} style={{ position: "absolute", left: 0, top: 0 }} />
      <div style={{ position: "absolute", left: 430, top: 0, width: 427, height: 573, overflow: "hidden" }}>
        <canvas ref={rightRef} width={437} height={573} style={{ position: "absolute", left: 0, top: 0 }} />
      </div>
    </div>
  );
}
